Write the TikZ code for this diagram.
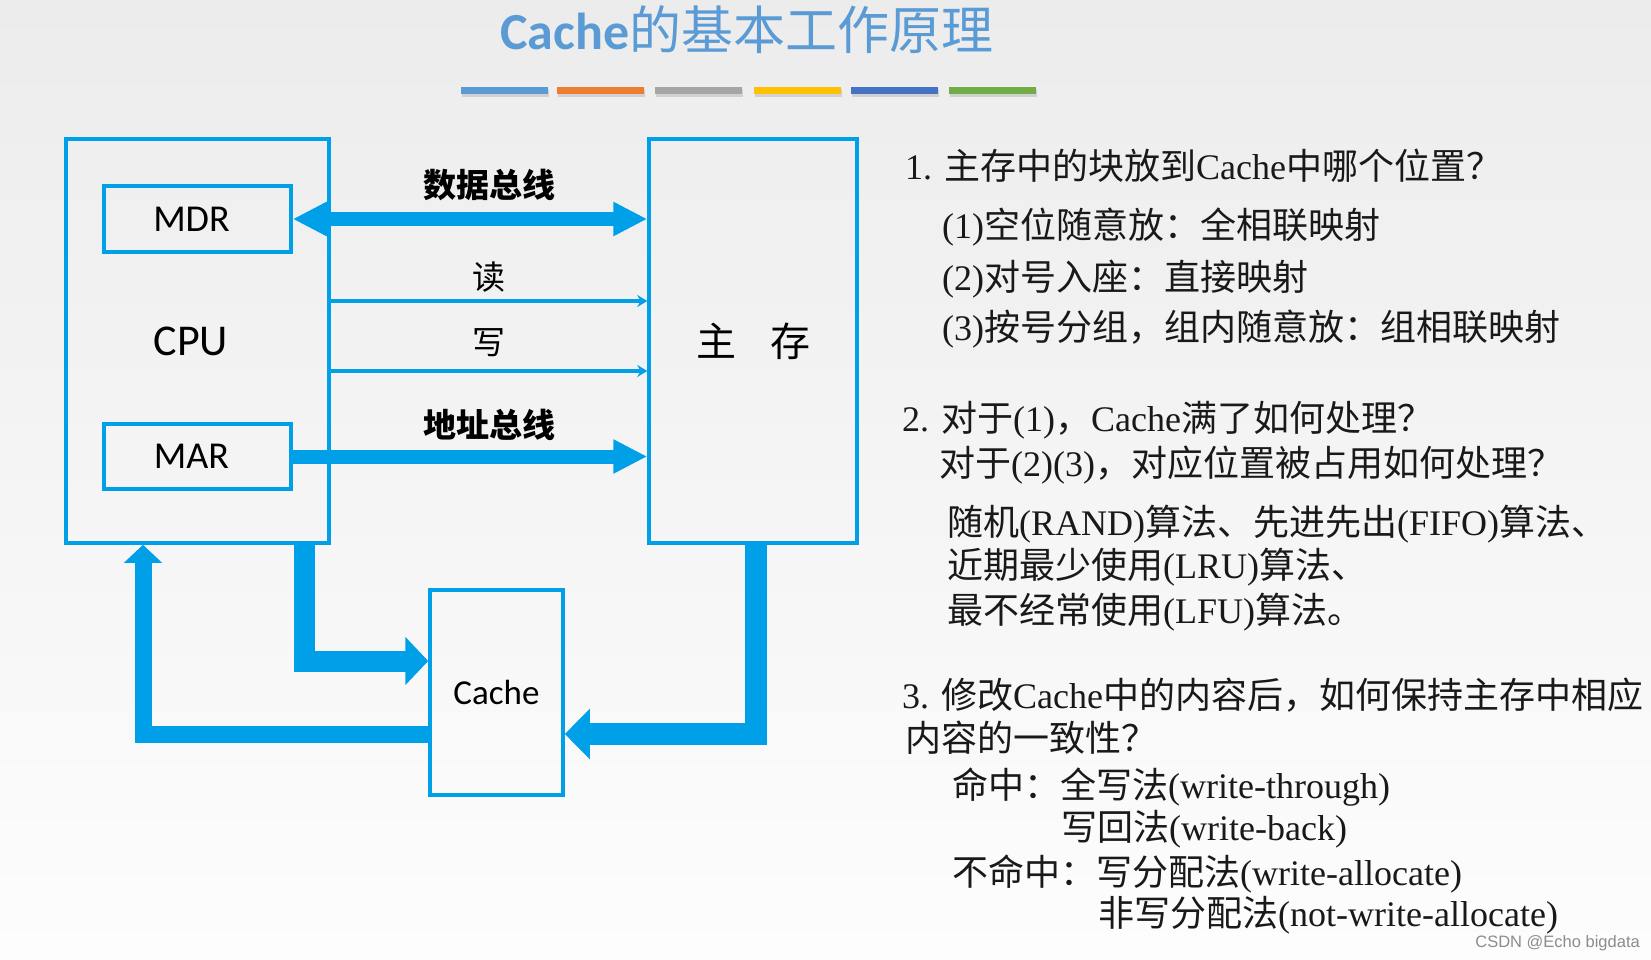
\documentclass[tikz,border=0pt]{standalone}
\usepackage{fontspec}
\setmainfont{Liberation Serif}
\newfontfamily\zhfont{Noto Sans CJK SC}
\newfontfamily\calib{Carlito}
\newfontfamily\wmfont{Liberation Sans}
\newcommand{\zh}[1]{{\zhfont #1}}
\usetikzlibrary{arrows.meta}
\definecolor{lineblue}{RGB}{0,160,233}
\definecolor{titleblue}{RGB}{91,155,213}
\definecolor{barA}{RGB}{91,155,213}
\definecolor{barB}{RGB}{237,125,49}
\definecolor{barC}{RGB}{165,165,165}
\definecolor{barD}{RGB}{255,192,0}
\definecolor{barE}{RGB}{68,114,196}
\definecolor{barF}{RGB}{112,173,71}
\definecolor{textdark}{RGB}{25,25,25}
\definecolor{bgtop}{RGB}{236,236,236}
\definecolor{bgbot}{RGB}{253,253,253}
\tikzset{
  box/.style={draw=lineblue, line width=3.5pt, inner sep=0pt, text=black},
  rt/.style={anchor=base west, inner sep=0pt, text=textdark, font=\fontsize{36}{40}\selectfont},
  buslabel/.style={inner sep=0pt, text=black, font=\zhfont\bfseries\fontsize{33}{36}\selectfont},
  rwlabel/.style={inner sep=0pt, text=black, font=\zhfont\fontsize{33}{36}\selectfont},
  thinarrow/.style={draw=lineblue, line width=3.5pt, -{Stealth[length=10pt,width=12pt]}},
  colorbar/.style={inner sep=0pt, minimum width=87pt, minimum height=7pt},
}
\begin{document}
\begin{tikzpicture}[x=1pt,y=-1pt]
\useasboundingbox (0,0) rectangle (1651,960);
\shade[top color=bgtop, bottom color=bgbot] (0,0) rectangle (1651,960);

% title
\node[anchor=base west, inner sep=0pt, text=titleblue, font=\fontsize{52}{56}\selectfont] (title) at (500,50)
  {{\calib\bfseries Cache}\zh{的基本工作原理}};

% colour bars with shadow
\foreach \c/\x [count=\i] in {barA/504, barB/600, barC/698.5, barD/797, barE/894.5, barF/992.5} {
  \fill[black, opacity=0.12] (\x-42.5,89) rectangle (\x+44.5,97.5);
  \node[colorbar, fill=\c] (bar\i) at (\x,90.5) {};
}

% boxes
\node[box, minimum width=263pt, minimum height=404pt, font=\calib\fontsize{44}{48}\selectfont] (cpu) at (197.5,341) {CPU\hspace*{13pt}};
\node[box, minimum width=187pt, minimum height=66pt, font=\calib\fontsize{38}{42}\selectfont] (mdr) at (197.5,219) {MDR\hspace*{12pt}};
\node[box, minimum width=187pt, minimum height=65pt, font=\calib\fontsize{38}{42}\selectfont] (mar) at (197.5,456.5) {MAR\hspace*{12pt}};
\node[box, minimum width=208pt, minimum height=404pt, font=\zhfont\fontsize{40}{44}\selectfont] (mem) at (753,341) {主\hspace{0.85em}存};
\node[box, minimum width=133pt, minimum height=205pt, font=\calib\fontsize{35}{38}\selectfont] (cache) at (496.5,692.5) {Cache};

% buses
\draw[lineblue, line width=14pt, {Triangle[length=34pt,width=32pt]}-{Triangle[length=34pt,width=32pt]}] (mdr.east) -- (mdr.east -| mem.west);
\draw[lineblue, line width=14pt, -{Triangle[length=34pt,width=32pt]}] (mar.east) -- (mar.east -| mem.west);
\coordinate (rd) at (0,301);
\coordinate (wr) at (0,371);
\draw[thinarrow] (cpu.east |- rd) -- (mem.west |- rd);
\draw[thinarrow] (cpu.east |- wr) -- (mem.west |- wr);

\node[buslabel] (dbus) at (489,185) {数据总线};
\node[rwlabel] (lread) at (489,277) {读};
\node[rwlabel] (lwrite) at (489,343) {写};
\node[buslabel] (abus) at (489,425) {地址总线};

% cache paths
\coordinate (c1) at (304,661);
\coordinate (c2) at (143,734);
\coordinate (c3) at (756,734);
\draw[lineblue, line width=21pt, line join=miter, -{Triangle[length=23pt,width=47pt]}] (cpu.south -| c1) -- (c1) -- (c1 -| cache.west);
\draw[lineblue, line width=17pt, line join=miter, -{Triangle[length=18pt,width=37pt]}] (cache.west |- c2) -- (c2) -- (c2 |- cpu.south);
\draw[lineblue, line width=22pt, line join=miter, -{Triangle[length=25pt,width=49pt]}] (mem.south -| c3) -- (c3) -- (c3 -| cache.east);

% right text
\node[rt] (t1) at (905,180) {1. \zh{主存中的块放到}Cache\zh{中哪个位置？}};
\node[rt] (t1a) at (942,238) {(1)\zh{空位随意放：全相联映射}};
\node[rt] (t1b) at (942,290) {(2)\zh{对号入座：直接映射}};
\node[rt] (t1c) at (942,340) {(3)\zh{按号分组，组内随意放：组相联映射}};
\node[rt] (t2) at (902,431) {2. \zh{对于}(1)\zh{，}Cache\zh{满了如何处理？}};
\node[rt] (t2a) at (939,476) {\zh{对于}(2)(3)\zh{，对应位置被占用如何处理？}};
\node[rt] (t2b) at (947,535) {\zh{随机}(RAND)\zh{算法、先进先出}(FIFO)\zh{算法、}};
\node[rt] (t2c) at (947,578) {\zh{近期最少使用}(LRU)\zh{算法、}};
\node[rt] (t2d) at (947,623) {\zh{最不经常使用}(LFU)\zh{算法。}};
\node[rt] (t3) at (902,708) {3. \zh{修改}Cache\zh{中的内容后，如何保持主存中相应}};
\node[rt] (t3a) at (905,751) {\zh{内容的一致性？}};
\node[rt] (t3b) at (952,798) {\zh{命中：全写法}(write-through)};
\node[rt] (t3c) at (1061,840) {\zh{写回法}(write-back)};
\node[rt] (t3d) at (952,885) {\zh{不命中：写分配法}(write-allocate)};
\node[rt] (t3e) at (1098,926) {\zh{非写分配法}(not-write-allocate)};

\node[anchor=base east, inner sep=0pt, text=black!45, font=\wmfont\fontsize{16.5}{18}\selectfont] (wm) at (1640,947) {CSDN @Echo bigdata};
\end{tikzpicture}
\end{document}
